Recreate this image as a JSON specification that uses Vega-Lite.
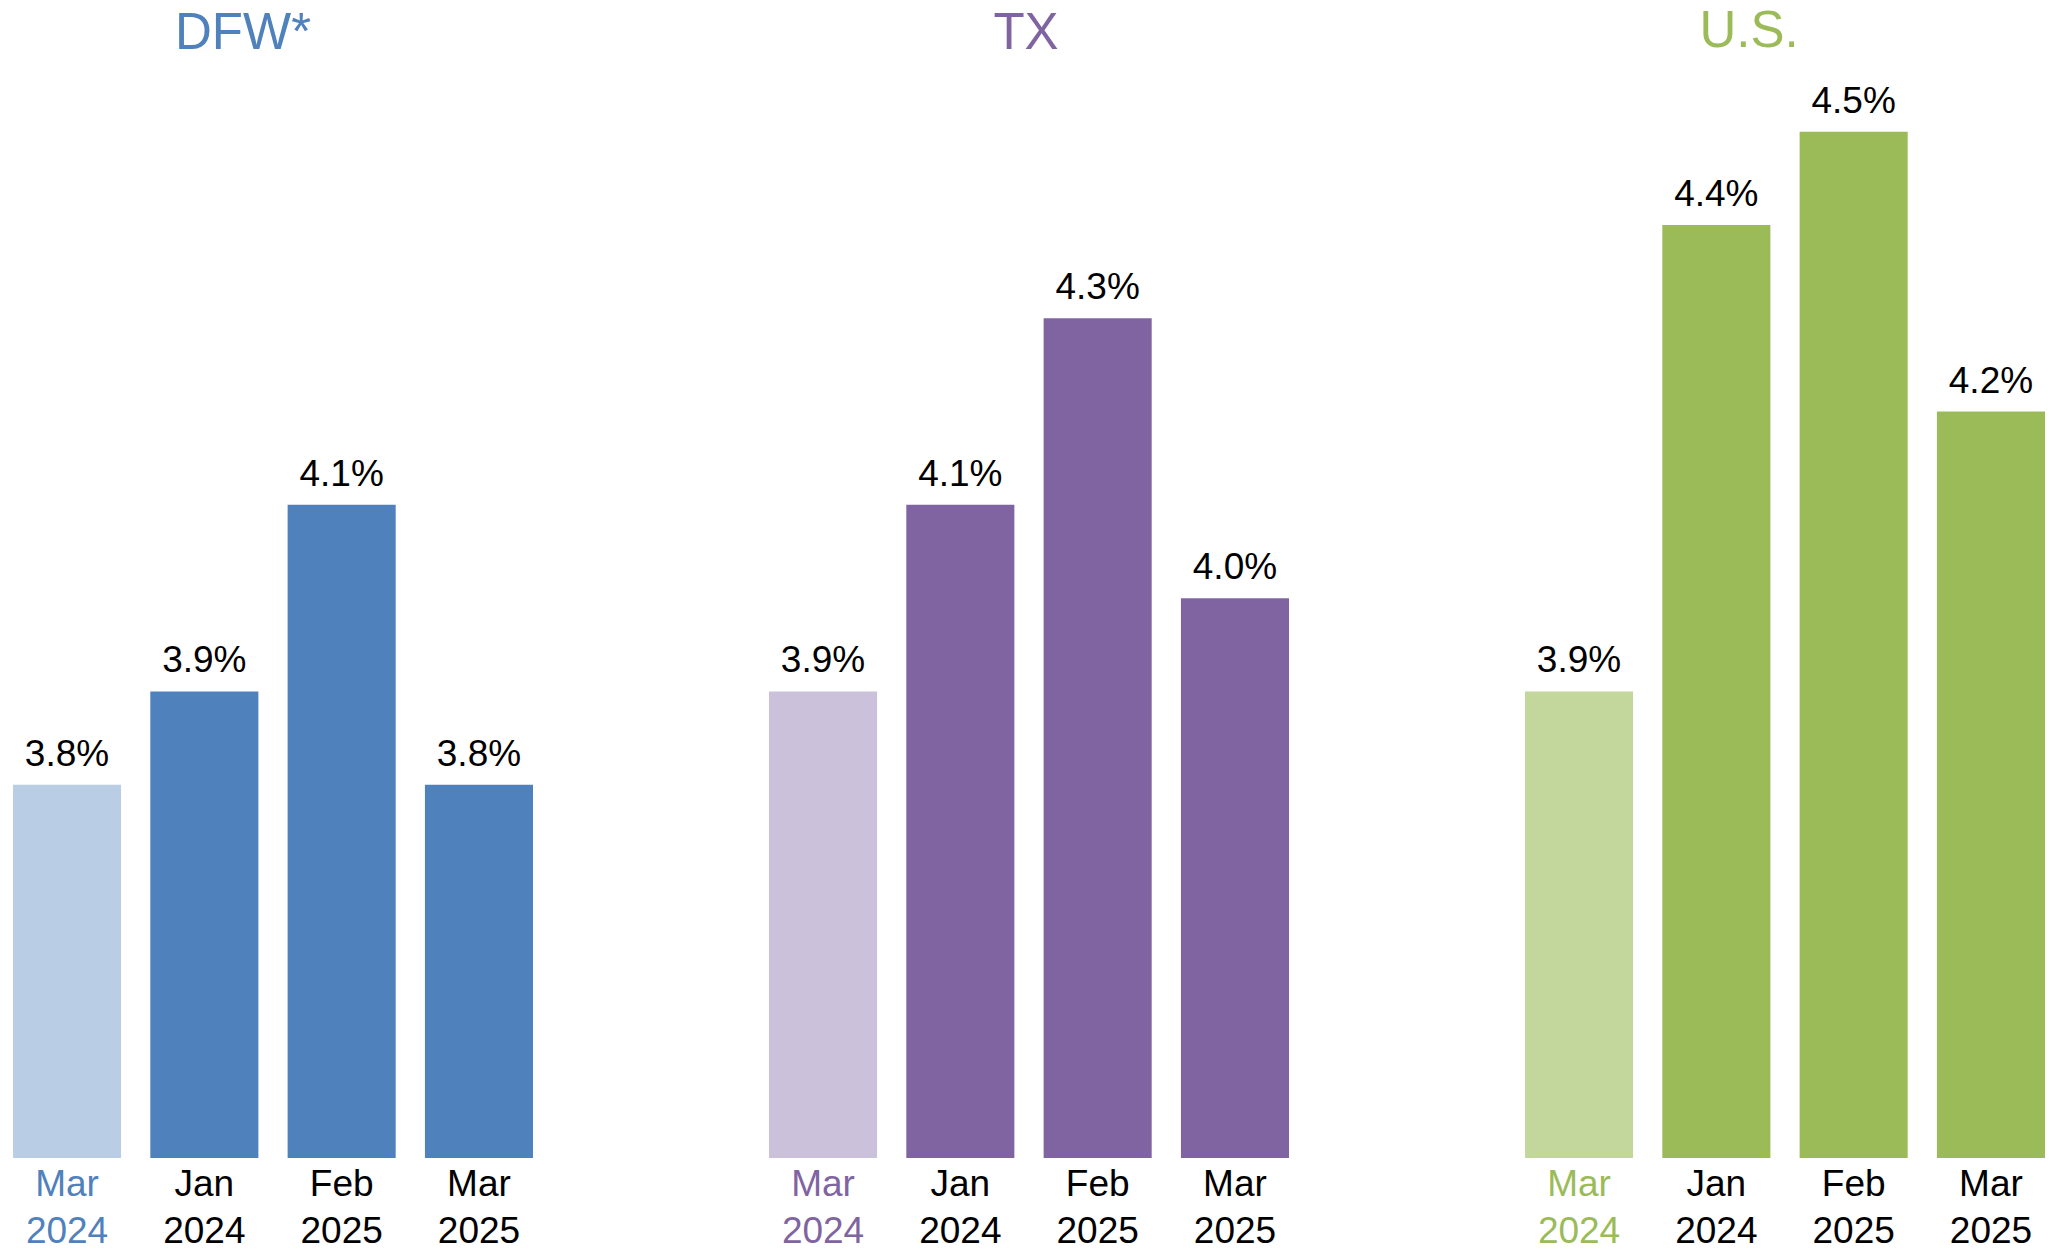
{
  "$schema": "https://vega.github.io/schema/vega-lite/v6.json",
  "background": "white",
  "padding": {"left": 13, "right": 0, "top": 5, "bottom": 0},
  "config": {
    "view": {"stroke": null},
    "font": "Liberation Sans",
    "concat": {"spacing": 236}
  },
  "data": {
    "values": [
      {"region": "DFW*", "period": "Mar 2024", "rate": 0.038},
      {"region": "DFW*", "period": "Jan 2024", "rate": 0.039},
      {"region": "DFW*", "period": "Feb 2025", "rate": 0.041},
      {"region": "DFW*", "period": "Mar 2025", "rate": 0.038},
      {"region": "TX", "period": "Mar 2024", "rate": 0.039},
      {"region": "TX", "period": "Jan 2024", "rate": 0.041},
      {"region": "TX", "period": "Feb 2025", "rate": 0.043},
      {"region": "TX", "period": "Mar 2025", "rate": 0.040},
      {"region": "U.S.", "period": "Mar 2024", "rate": 0.039},
      {"region": "U.S.", "period": "Jan 2024", "rate": 0.044},
      {"region": "U.S.", "period": "Feb 2025", "rate": 0.045},
      {"region": "U.S.", "period": "Mar 2025", "rate": 0.042}
    ]
  },
  "resolve": {"scale": {"color": "independent"}},
  "hconcat": [
    {
      "title": {"text": "DFW*", "color": "#4F81BD", "fontSize": 51, "fontWeight": "normal", "anchor": "middle", "dx": -30, "offset": 25},
      "transform": [{"filter": "datum.region === 'DFW*'"}],
      "width": 520,
      "height": 1073,
      "encoding": {
        "x": {"field": "period", "type": "nominal", "sort": null,
          "scale": {"paddingInner": 0.213, "paddingOuter": 0},
          "axis": {"title": null, "domain": false, "ticks": false, "labelAngle": 0, "labelFontSize": 37, "labelLineHeight": 47, "labelPadding": 8, "labelOverlap": false, "labelLimit": 0,
            "labelExpr": "split(datum.label, ' ')",
            "labelColor": {"condition": {"test": "datum.value === 'Mar 2024'", "value": "#4F81BD"}, "value": "black"}}},
        "y": {"field": "rate", "type": "quantitative", "scale": {"domain": [0.034, 0.0455], "zero": false, "nice": false}, "axis": null}
      },
      "layer": [
        {"mark": {"type": "bar", "clip": true},
         "encoding": {"color": {"field": "period", "type": "nominal", "scale": {"domain": ["Mar 2024", "Jan 2024", "Feb 2025", "Mar 2025"], "range": ["#B9CDE5", "#4F81BD", "#4F81BD", "#4F81BD"]}, "legend": null}}},
        {"mark": {"type": "text", "baseline": "alphabetic", "dy": -19, "fontSize": 37, "color": "black"},
         "encoding": {"text": {"field": "rate", "type": "quantitative", "format": ".1%"}}}
      ]
    },
    {
      "title": {"text": "TX", "color": "#8064A2", "fontSize": 51, "fontWeight": "normal", "anchor": "middle", "dx": -3, "offset": 25},
      "transform": [{"filter": "datum.region === 'TX'"}],
      "width": 520,
      "height": 1073,
      "encoding": {
        "x": {"field": "period", "type": "nominal", "sort": null,
          "scale": {"paddingInner": 0.213, "paddingOuter": 0},
          "axis": {"title": null, "domain": false, "ticks": false, "labelAngle": 0, "labelFontSize": 37, "labelLineHeight": 47, "labelPadding": 8, "labelOverlap": false, "labelLimit": 0,
            "labelExpr": "split(datum.label, ' ')",
            "labelColor": {"condition": {"test": "datum.value === 'Mar 2024'", "value": "#8064A2"}, "value": "black"}}},
        "y": {"field": "rate", "type": "quantitative", "scale": {"domain": [0.034, 0.0455], "zero": false, "nice": false}, "axis": null}
      },
      "layer": [
        {"mark": {"type": "bar", "clip": true},
         "encoding": {"color": {"field": "period", "type": "nominal", "scale": {"domain": ["Mar 2024", "Jan 2024", "Feb 2025", "Mar 2025"], "range": ["#CCC1DA", "#8064A2", "#8064A2", "#8064A2"]}, "legend": null}}},
        {"mark": {"type": "text", "baseline": "alphabetic", "dy": -19, "fontSize": 37, "color": "black"},
         "encoding": {"text": {"field": "rate", "type": "quantitative", "format": ".1%"}}}
      ]
    },
    {
      "title": {"text": "U.S.", "color": "#9BBB59", "fontSize": 51, "fontWeight": "normal", "anchor": "middle", "dx": -36, "offset": 25},
      "transform": [{"filter": "datum.region === 'U.S.'"}],
      "width": 520,
      "height": 1073,
      "encoding": {
        "x": {"field": "period", "type": "nominal", "sort": null,
          "scale": {"paddingInner": 0.213, "paddingOuter": 0},
          "axis": {"title": null, "domain": false, "ticks": false, "labelAngle": 0, "labelFontSize": 37, "labelLineHeight": 47, "labelPadding": 8, "labelOverlap": false, "labelLimit": 0,
            "labelExpr": "split(datum.label, ' ')",
            "labelColor": {"condition": {"test": "datum.value === 'Mar 2024'", "value": "#9BBB59"}, "value": "black"}}},
        "y": {"field": "rate", "type": "quantitative", "scale": {"domain": [0.034, 0.0455], "zero": false, "nice": false}, "axis": null}
      },
      "layer": [
        {"mark": {"type": "bar", "clip": true},
         "encoding": {"color": {"field": "period", "type": "nominal", "scale": {"domain": ["Mar 2024", "Jan 2024", "Feb 2025", "Mar 2025"], "range": ["#C3D69B", "#9BBB59", "#9BBB59", "#9BBB59"]}, "legend": null}}},
        {"mark": {"type": "text", "baseline": "alphabetic", "dy": -19, "fontSize": 37, "color": "black"},
         "encoding": {"text": {"field": "rate", "type": "quantitative", "format": ".1%"}}}
      ]
    }
  ]
}
